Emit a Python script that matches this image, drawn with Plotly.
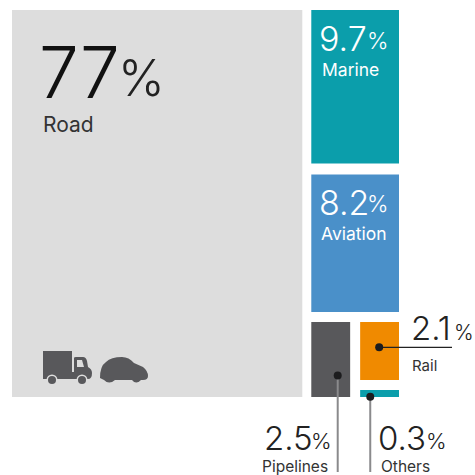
import plotly.graph_objects as go

# Share of transport energy use by mode, in percent
modes = ["Road", "Marine", "Aviation", "Pipelines", "Rail", "Others"]
shares = [77, 9.7, 8.2, 2.5, 2.1, 0.3]
share_labels = ["77", "9.7", "8.2", "2.5", "2.1", "0.3"]
colors = ["#dddddd", "#0b9eab", "#4a90c9", "#58585b", "#f08a00", "#0b9eab"]

share = dict(zip(modes, shares))

# Cartogram frame, in canvas pixels
LEFT, TOP, SIDE = 12, 10, 387
COL_GAP, ROW_GAP = 9, 10
# Hand-set trims: the cells are drawn close to, not strictly, area-proportional
ROW_TRIM = {"Marine": 0.99, "Aviation": 1.05, "Bottom": 0.94, "Others": 0.85}

road_w = (SIDE - COL_GAP - 1) * share["Road"] / 100
right_x = LEFT + road_w + COL_GAP
right_w = SIDE - road_w - COL_GAP
half_w = (right_w - ROW_GAP) / 2

bottom_units = 2 * share["Pipelines"]
units = share["Marine"] * ROW_TRIM["Marine"] + share["Aviation"] * ROW_TRIM["Aviation"] + bottom_units * ROW_TRIM["Bottom"]
per_unit = (SIDE - 2 * ROW_GAP - 1) / units
marine_h = share["Marine"] * ROW_TRIM["Marine"] * per_unit
aviation_h = share["Aviation"] * ROW_TRIM["Aviation"] * per_unit
bottom_h = bottom_units * ROW_TRIM["Bottom"] * per_unit
bottom_y = TOP + marine_h + aviation_h + 2 * ROW_GAP + 1

stack_h = bottom_h - ROW_GAP
others_h = stack_h * share["Others"] / (share["Rail"] + share["Others"]) * ROW_TRIM["Others"]
rail_h = stack_h - others_h

cells = {
    "Road": (LEFT, TOP, road_w, SIDE),
    "Marine": (right_x, TOP, right_w, marine_h),
    "Aviation": (right_x, TOP + marine_h + ROW_GAP + 1, right_w, aviation_h),
    "Pipelines": (right_x, bottom_y, half_w, bottom_h),
    "Rail": (right_x + half_w + ROW_GAP, bottom_y, half_w, rail_h),
    "Others": (right_x + half_w + ROW_GAP, bottom_y + rail_h + ROW_GAP, half_w, others_h),
}

fig = go.Figure()
for mode, color in zip(modes, colors):
    x, y, w, h = cells[mode]
    fig.add_trace(go.Bar(x=[x + w / 2], y=[h], base=[y], width=[w],
                         marker=dict(color=color, line_width=0), hoverinfo="skip"))

# Leader lines tying the small cells to their labels
LEADER = "#8a8a8c"
def cell_point(mode, fx, fy):
    x, y, w, h = cells[mode]
    return x + w * fx, y + h * fy

rail_pt = cell_point("Rail", 0.49, 0.436)
pipe_pt = cell_point("Pipelines", 0.68, 0.715)
others_pt = cell_point("Others", 0.26, 0.95)
fig.add_trace(go.Scatter(x=[rail_pt[0], 452], y=[rail_pt[1], rail_pt[1]], mode="lines",
                         line=dict(color="#222222", width=1.2), hoverinfo="skip"))
fig.add_trace(go.Scatter(x=[pipe_pt[0], pipe_pt[0]], y=[pipe_pt[1], 472], mode="lines",
                         line=dict(color=LEADER, width=2), hoverinfo="skip"))
fig.add_trace(go.Scatter(x=[others_pt[0], others_pt[0]], y=[others_pt[1], 472], mode="lines",
                         line=dict(color=LEADER, width=2), hoverinfo="skip"))
fig.add_trace(go.Scatter(x=[rail_pt[0], pipe_pt[0], others_pt[0]],
                         y=[rail_pt[1], pipe_pt[1], others_pt[1]], mode="markers",
                         marker=dict(color="#1c1c1e", size=8), hoverinfo="skip"))

FONT = "Inter"
def label(x, y, text, size, color, weight=400, anchor="left"):
    fig.add_annotation(x=x, y=y, text=text, showarrow=False, xanchor=anchor, yanchor="middle",
                       font=dict(family=FONT, size=size, color=color, weight=weight))

INK = "#222222"
label(37, 72, share_labels[0], 71, "#111111", 300)
label(116, 78, "%", 50, "#222222", 300)
label(41, 124, modes[0], 21, "#333333")
label(317, 38, share_labels[1], 34, "#ffffff", 300)
label(365, 41, "%", 23, "#ffffff", 300)
label(320, 69, modes[1], 17.5, "#ffffff")
label(317, 202, share_labels[2], 34, "#ffffff", 300)
label(365, 204, "%", 23, "#ffffff", 300)
label(319, 233, modes[2], 17.5, "#ffffff")
label(409, 328, share_labels[4], 33, INK, 300)
label(452, 332, "%", 21, INK, 300)
label(410, 365, modes[4], 15, "#333333")
label(262, 438, share_labels[3], 33, INK, 300)
label(309, 441, "%", 22, INK, 300)
label(260, 466, modes[3], 15.5, "#333333")
label(376, 438, share_labels[5], 33, INK, 300)
label(424, 441, "%", 22, INK, 300)
label(379, 466, modes[5], 15.5, "#333333")

# Truck and car pictograms
ICON = "#58585b"
truck_body = ("M43,351 L72,351 L72,372 L74,372 L74,358 Q74,357 76,357 L83,357 Q86,357 87,361 "
              "L88,367 Q92,369 92,373 Q92,379 88,379 L43,379 Z")
fig.add_shape(type="path", path=truck_body, fillcolor=ICON, line_width=0, xref="x", yref="y")
fig.add_shape(type="path", path="M77,360 L82,360 L84,367 L77,367 Z", fillcolor="#dddddd", line_width=0, xref="x", yref="y")
for cx in (52, 82):
    fig.add_shape(type="circle", x0=cx - 5.5, x1=cx + 5.5, y0=374.5, y1=385.5,
                  fillcolor="#dddddd", line_width=0, xref="x", yref="y")
    fig.add_shape(type="circle", x0=cx - 4, x1=cx + 4, y0=376, y1=384,
                  fillcolor=ICON, line_width=0, xref="x", yref="y")
car = ("M100,378 Q100,366 106,362 Q111,357 122,357 Q129,357 134,363 L143,367 Q148,371 148,376 "
       "Q148,380 143,380 L141,380 Q136,385 132,380 L115,380 Q109,385 104,380 Z")
fig.add_shape(type="path", path=car, fillcolor=ICON, line_width=0, xref="x", yref="y")

fig.update_layout(
    width=475, height=475, margin=dict(l=0, r=0, t=0, b=0),
    paper_bgcolor="#ffffff", plot_bgcolor="#ffffff", showlegend=False, barmode="overlay",
    xaxis=dict(range=[0, 475], visible=False, fixedrange=True),
    yaxis=dict(range=[475, 0], visible=False, fixedrange=True),
)
fig.write_html("out.html", config={"displayModeBar": False})
